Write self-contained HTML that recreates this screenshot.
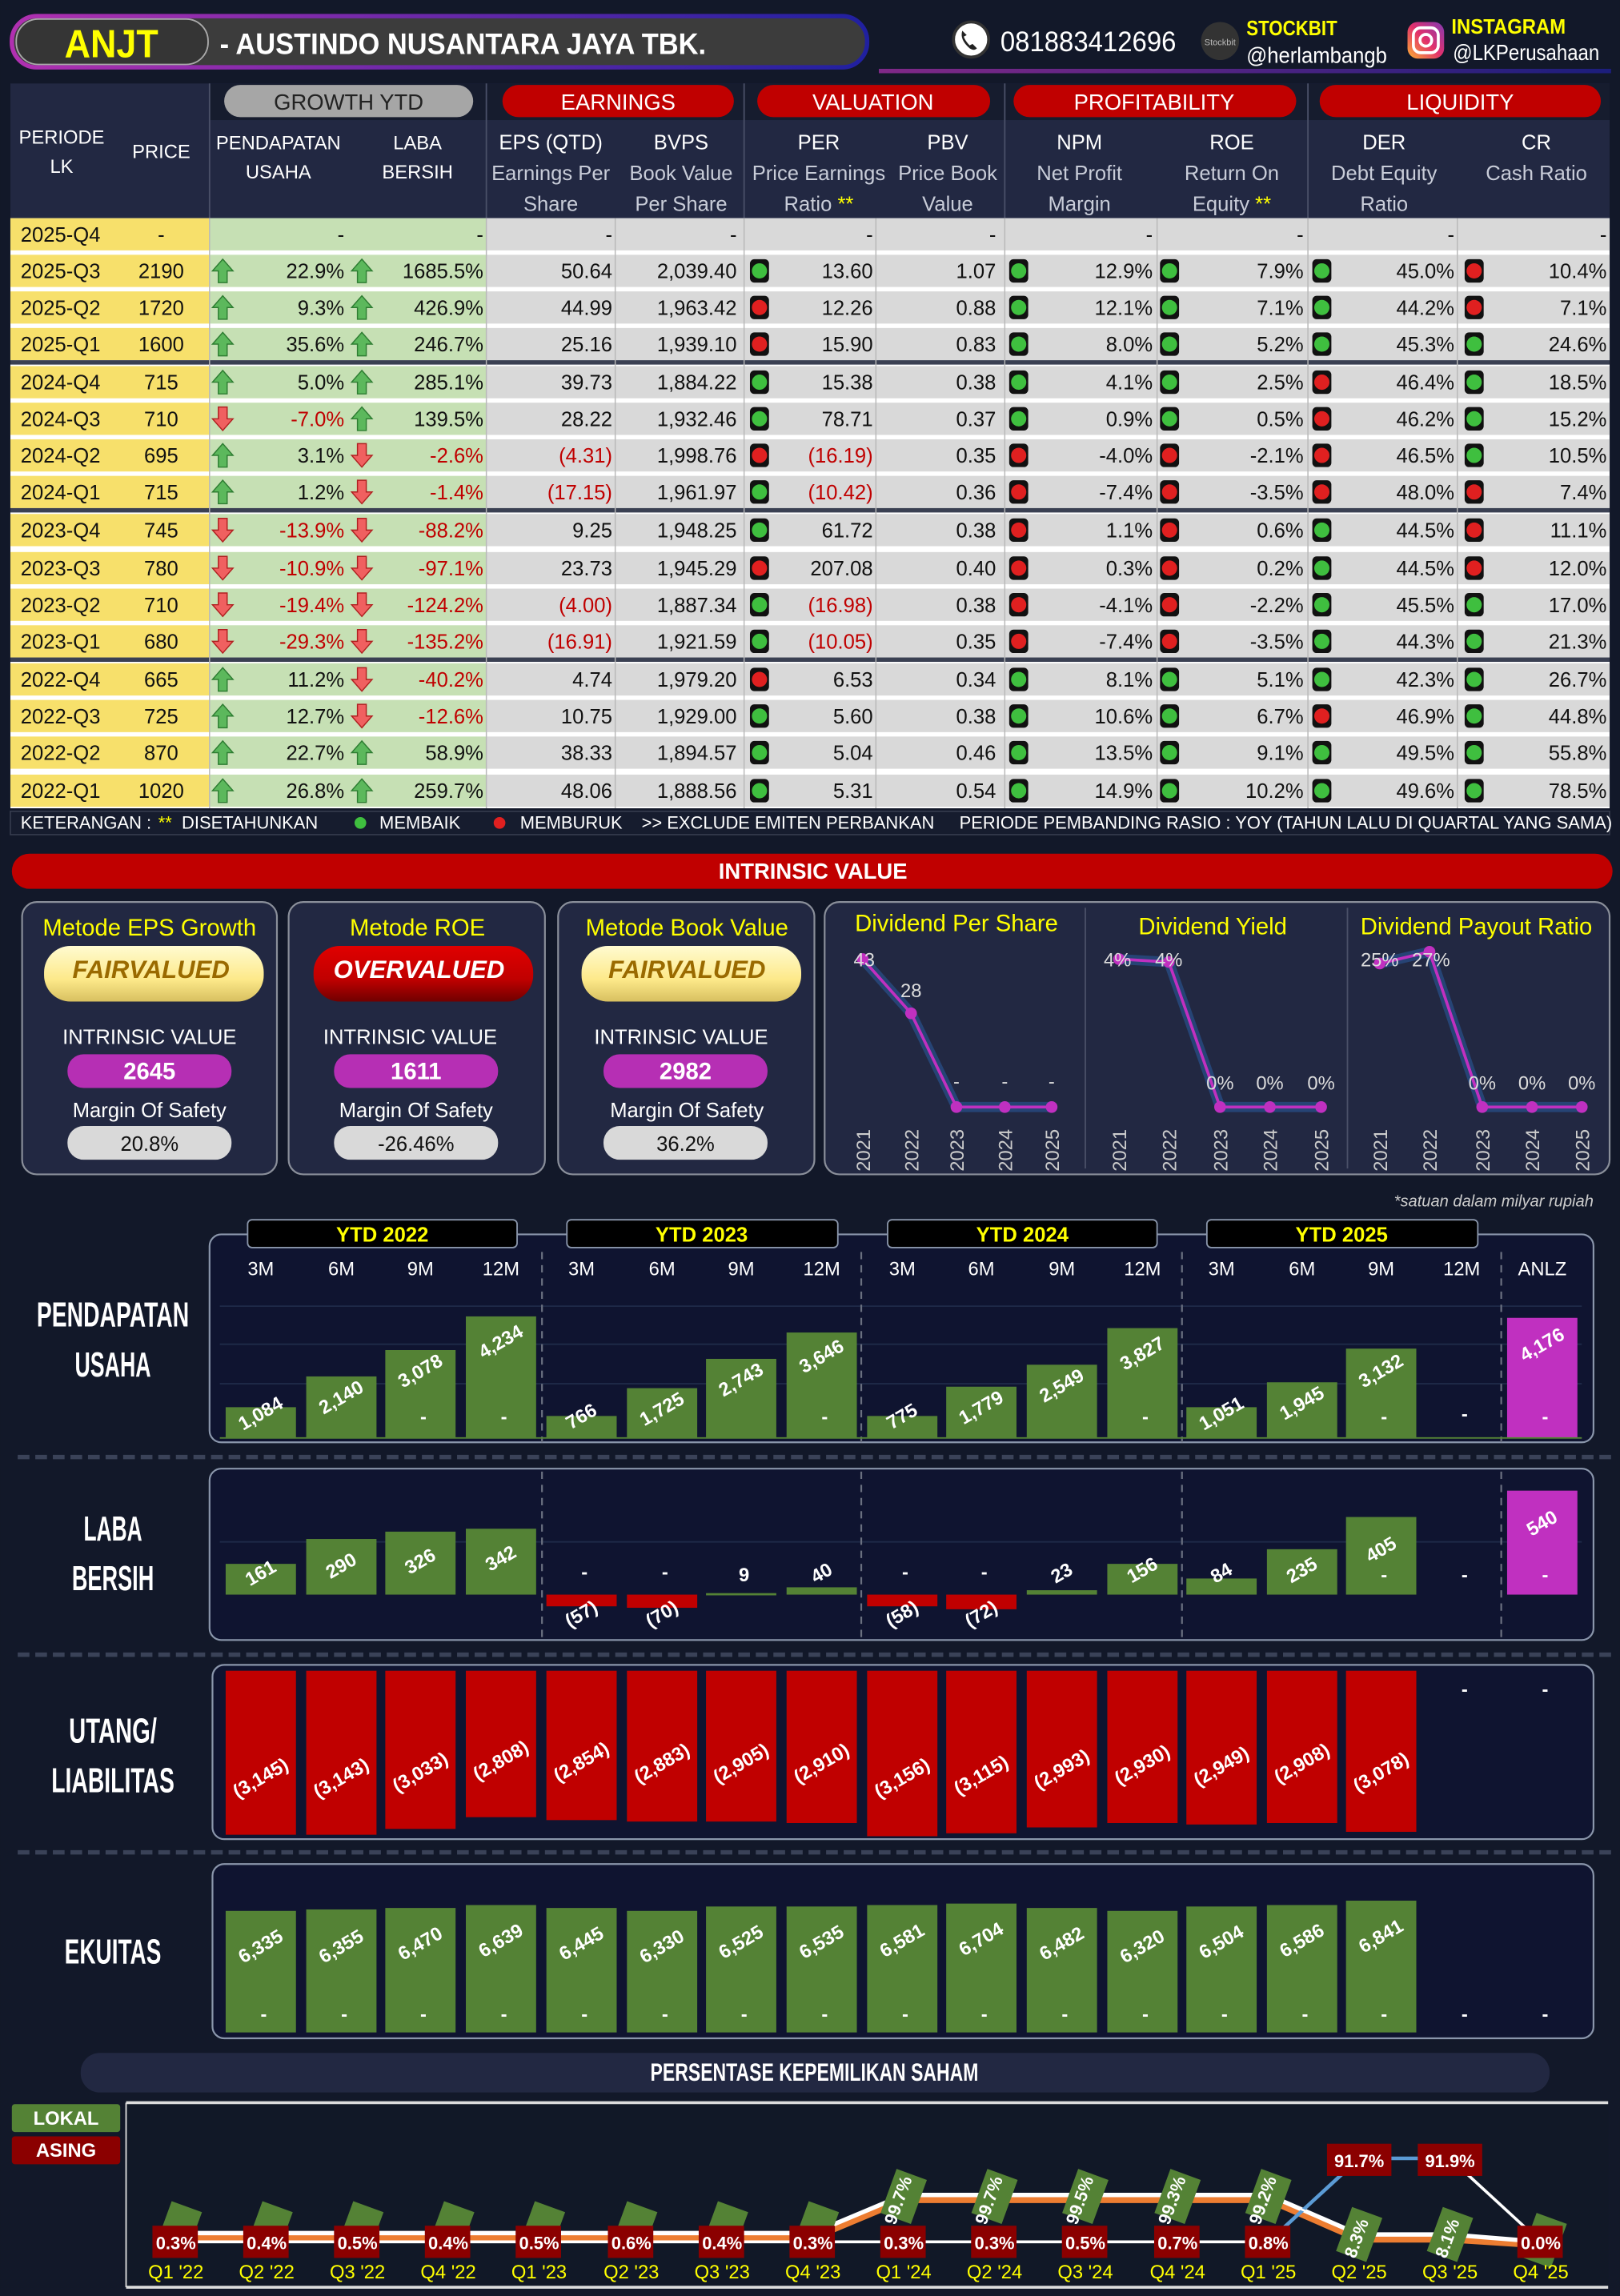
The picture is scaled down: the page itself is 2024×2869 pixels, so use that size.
<!DOCTYPE html>
<html><head><meta charset="utf-8"><style>
html,body{margin:0;padding:0;background:#121829;}
svg{display:block}
text{font-family:"Liberation Sans Narrow","Liberation Sans",sans-serif;}
.t{font-size:14px;fill:#111;}
.e{text-anchor:end}
.m{text-anchor:middle}
.h{font-size:14px;fill:#fff;text-anchor:middle}
.hs{font-size:14px;fill:#c8ccd8;text-anchor:middle}
.neg{fill:#c00000}
.bl{font-size:13px;fill:#fff;font-weight:bold;text-anchor:middle}
.ml{font-size:13px;fill:#fff;text-anchor:middle}
.yl{font-size:14px;fill:#ffff00;text-anchor:middle}
</style></head><body>
<svg width="2024" height="2869" viewBox="0 0 1106 1568" xmlns="http://www.w3.org/2000/svg">
<defs>
<linearGradient id="hg" x1="0" x2="1"><stop offset="0" stop-color="#b030b0"/><stop offset="1" stop-color="#2020a0"/></linearGradient>
<linearGradient id="yg" x1="0" y1="0" x2="0" y2="1"><stop offset="0" stop-color="#fffbd0"/><stop offset="0.6" stop-color="#fde98a"/><stop offset="1" stop-color="#d8c060"/></linearGradient>
<linearGradient id="rg" x1="0" y1="0" x2="0" y2="1"><stop offset="0" stop-color="#e00000"/><stop offset="0.6" stop-color="#c00000"/><stop offset="1" stop-color="#700000"/></linearGradient>
<linearGradient id="ig" x1="0" y1="1" x2="1" y2="0"><stop offset="0" stop-color="#fdb032"/><stop offset="0.5" stop-color="#e1306c"/><stop offset="1" stop-color="#833ab4"/></linearGradient>
<g id="up"><path d="M0,-8 L7,0 L3,0 L3,8 L-3,8 L-3,0 L-7,0Z" fill="#5cb85c" stroke="#2e7d32" stroke-width="0.8"/></g>
<g id="dn"><path d="M0,8 L7,0 L3,0 L3,-8 L-3,-8 L-3,0 L-7,0Z" fill="#f06060" stroke="#b02020" stroke-width="0.8"/></g>
<g id="G"><rect x="0" y="-8" width="13" height="16" rx="3" fill="#111"/><circle cx="6.5" cy="0" r="5.2" fill="#3fbf3f"/></g>
<g id="R"><rect x="0" y="-8" width="13" height="16" rx="3" fill="#111"/><circle cx="6.5" cy="0" r="5.2" fill="#e02020"/></g>
<g id="LG"><rect x="-16" y="-11" width="32" height="22" fill="#548235"/></g>
</defs>
<rect width="1106" height="1568" fill="#121829"/>

<!-- HEADER -->
<rect x="8" y="11" width="584" height="35" rx="17" fill="#3c3c3c" stroke="url(#hg)" stroke-width="3"/>
<rect x="11" y="13" width="131" height="31" rx="15" fill="#353535" stroke="#aaa" stroke-width="1"/>
<text x="76" y="39" class="m" style="font-size:27px;font-weight:bold;fill:#ffff00" textLength="64" lengthAdjust="spacingAndGlyphs">ANJT</text>
<text x="150" y="37" style="font-size:20px;font-weight:bold;fill:#fff" textLength="332" lengthAdjust="spacingAndGlyphs">-  AUSTINDO NUSANTARA JAYA TBK.</text>
<circle cx="663" cy="27" r="12" fill="#fff" stroke="#333" stroke-width="2"/>
<path d="M657,21 q-2,6 5,12 q3,2 5,0 l-3,-3 l-2,1 q-3,-3 -4,-6 l2,-1z" fill="#222"/>
<text x="683" y="35" style="font-size:19px;fill:#fff" textLength="120" lengthAdjust="spacingAndGlyphs">081883412696</text>
<circle cx="833" cy="28" r="13" fill="#333"/>
<text x="833" y="31" class="m" style="font-size:6px;fill:#bbb">Stockbit</text>
<text x="851" y="24" style="font-size:14px;font-weight:bold;fill:#ffff00" textLength="62" lengthAdjust="spacingAndGlyphs">STOCKBIT</text>
<text x="851" y="43" style="font-size:15px;fill:#fff" textLength="96" lengthAdjust="spacingAndGlyphs">@herlambangb</text>
<rect x="961" y="15" width="25" height="25" rx="7" fill="url(#ig)"/>
<rect x="965" y="19" width="17" height="17" rx="5" fill="none" stroke="#fff" stroke-width="2"/>
<circle cx="973.5" cy="27.5" r="4" fill="none" stroke="#fff" stroke-width="2"/>
<text x="991" y="23" style="font-size:14px;font-weight:bold;fill:#ffff00" textLength="78" lengthAdjust="spacingAndGlyphs">INSTAGRAM</text>
<text x="992" y="41" style="font-size:15px;fill:#fff" textLength="100" lengthAdjust="spacingAndGlyphs">@LKPerusahaan</text>
<rect x="600" y="47" width="500" height="3" fill="url(#hg)" opacity="0.7"/>

<!-- TABLE HEADER -->
<rect x="7" y="57" width="1092" height="92" fill="#222842"/>
<rect x="143" y="57" width="956" height="25" fill="#161c2e"/>
<g stroke="#4a5068" stroke-width="1"><line x1="143" y1="57" x2="143" y2="149"/><line x1="332" y1="57" x2="332" y2="149"/><line x1="508" y1="57" x2="508" y2="149"/><line x1="686" y1="57" x2="686" y2="149"/><line x1="893" y1="57" x2="893" y2="149"/></g>
<rect x="153" y="58" width="170" height="22" rx="11" fill="#a6a6a6"/>
<text x="238" y="75" class="m" style="font-size:15px;fill:#222">GROWTH YTD</text>
<rect x="343" y="58" width="158" height="22" rx="11" fill="#c00000"/>
<text x="422" y="75" class="h" style="font-size:15px">EARNINGS</text>
<rect x="517" y="58" width="159" height="22" rx="11" fill="#c00000"/>
<text x="596" y="75" class="h" style="font-size:15px">VALUATION</text>
<rect x="692" y="58" width="193" height="22" rx="11" fill="#c00000"/>
<text x="788" y="75" class="h" style="font-size:15px">PROFITABILITY</text>
<rect x="901" y="58" width="192" height="22" rx="11" fill="#c00000"/>
<text x="997" y="75" class="h" style="font-size:15px">LIQUIDITY</text>
<text x="42" y="98" class="h" style="font-size:13px">PERIODE</text>
<text x="42" y="118" class="h" style="font-size:13px">LK</text>
<text x="110" y="108" class="h" style="font-size:13px">PRICE</text>
<text x="190" y="102" class="h" style="font-size:13px">PENDAPATAN</text>
<text x="190" y="122" class="h" style="font-size:13px">USAHA</text>
<text x="285" y="102" class="h" style="font-size:13px">LABA</text>
<text x="285" y="122" class="h" style="font-size:13px">BERSIH</text>
<text x="376" y="102" class="h">EPS (QTD)</text><text x="376" y="123" class="hs">Earnings Per</text><text x="376" y="144" class="hs">Share</text>
<text x="465" y="102" class="h">BVPS</text><text x="465" y="123" class="hs">Book Value</text><text x="465" y="144" class="hs">Per Share</text>
<text x="559" y="102" class="h">PER</text><text x="559" y="123" class="hs">Price Earnings</text><text x="559" y="144" class="hs">Ratio <tspan fill="#ffff00">**</tspan></text>
<text x="647" y="102" class="h">PBV</text><text x="647" y="123" class="hs">Price Book</text><text x="647" y="144" class="hs">Value</text>
<text x="737" y="102" class="h">NPM</text><text x="737" y="123" class="hs">Net Profit</text><text x="737" y="144" class="hs">Margin</text>
<text x="841" y="102" class="h">ROE</text><text x="841" y="123" class="hs">Return On</text><text x="841" y="144" class="hs">Equity <tspan fill="#ffff00">**</tspan></text>
<text x="945" y="102" class="h">DER</text><text x="945" y="123" class="hs">Debt Equity</text><text x="945" y="144" class="hs">Ratio</text>
<text x="1049" y="102" class="h">CR</text><text x="1049" y="123" class="hs">Cash Ratio</text>

<!-- TABLE BODY BG -->
<rect x="7" y="149" width="1092" height="403" fill="#fff"/>
<g id="rowsbg">
<g fill="#f7e06b"><rect x="7" y="149" width="136" height="22"/><rect x="7" y="174" width="136" height="22"/><rect x="7" y="199" width="136" height="22"/><rect x="7" y="224" width="136" height="22"/><rect x="7" y="250" width="136" height="22"/><rect x="7" y="275" width="136" height="22"/><rect x="7" y="300" width="136" height="22"/><rect x="7" y="325" width="136" height="22"/><rect x="7" y="351" width="136" height="22"/><rect x="7" y="377" width="136" height="22"/><rect x="7" y="402" width="136" height="22"/><rect x="7" y="427" width="136" height="22"/><rect x="7" y="453" width="136" height="22"/><rect x="7" y="478" width="136" height="22"/><rect x="7" y="503" width="136" height="22"/><rect x="7" y="529" width="136" height="22"/></g>
<g fill="#c6e0b4"><rect x="143" y="149" width="189" height="22"/><rect x="143" y="174" width="189" height="22"/><rect x="143" y="199" width="189" height="22"/><rect x="143" y="224" width="189" height="22"/><rect x="143" y="250" width="189" height="22"/><rect x="143" y="275" width="189" height="22"/><rect x="143" y="300" width="189" height="22"/><rect x="143" y="325" width="189" height="22"/><rect x="143" y="351" width="189" height="22"/><rect x="143" y="377" width="189" height="22"/><rect x="143" y="402" width="189" height="22"/><rect x="143" y="427" width="189" height="22"/><rect x="143" y="453" width="189" height="22"/><rect x="143" y="478" width="189" height="22"/><rect x="143" y="503" width="189" height="22"/><rect x="143" y="529" width="189" height="22"/></g>
<g fill="#d9d9d9"><rect x="332" y="149" width="767" height="22"/><rect x="332" y="174" width="767" height="22"/><rect x="332" y="199" width="767" height="22"/><rect x="332" y="224" width="767" height="22"/><rect x="332" y="250" width="767" height="22"/><rect x="332" y="275" width="767" height="22"/><rect x="332" y="300" width="767" height="22"/><rect x="332" y="325" width="767" height="22"/><rect x="332" y="351" width="767" height="22"/><rect x="332" y="377" width="767" height="22"/><rect x="332" y="402" width="767" height="22"/><rect x="332" y="427" width="767" height="22"/><rect x="332" y="453" width="767" height="22"/><rect x="332" y="478" width="767" height="22"/><rect x="332" y="503" width="767" height="22"/><rect x="332" y="529" width="767" height="22"/></g>
<g fill="#3a4052"><rect x="7" y="246" width="1092" height="3"/><rect x="7" y="347" width="1092" height="3"/><rect x="7" y="449" width="1092" height="3"/></g>
<g stroke="#b8b8b8" stroke-width="0.8"><line x1="420" y1="149" x2="420" y2="552"/><line x1="508" y1="149" x2="508" y2="552"/><line x1="598" y1="149" x2="598" y2="552"/><line x1="686" y1="149" x2="686" y2="552"/><line x1="790" y1="149" x2="790" y2="552"/><line x1="893" y1="149" x2="893" y2="552"/><line x1="995" y1="149" x2="995" y2="552"/><line x1="143" y1="149" x2="143" y2="552"/><line x1="332" y1="149" x2="332" y2="552"/></g>
</g>

<g class="t"><text x="14" y="165">2025-Q4</text><text x="110" y="165" class="m">-</text><text x="235" y="165" class="e">-</text><text x="330" y="165" class="e">-</text><text x="418" y="165" class="e">-</text><text x="503" y="165" class="e">-</text><text x="596" y="165" class="e">-</text><text x="680" y="165" class="e">-</text><text x="787" y="165" class="e">-</text><text x="890" y="165" class="e">-</text><text x="993" y="165" class="e">-</text><text x="1097" y="165" class="e">-</text></g>

<g class="t">
<text x="14" y="190">2025-Q3</text><text x="110" y="190" class="m">2190</text><text x="235" y="190" class="e">22.9%</text><text x="330" y="190" class="e">1685.5%</text><text x="418" y="190" class="e">50.64</text><text x="503" y="190" class="e">2,039.40</text><text x="596" y="190" class="e">13.60</text><text x="680" y="190" class="e">1.07</text><text x="787" y="190" class="e">12.9%</text><text x="890" y="190" class="e">7.9%</text><text x="993" y="190" class="e">45.0%</text><text x="1097" y="190" class="e">10.4%</text>
<text x="14" y="215">2025-Q2</text><text x="110" y="215" class="m">1720</text><text x="235" y="215" class="e">9.3%</text><text x="330" y="215" class="e">426.9%</text><text x="418" y="215" class="e">44.99</text><text x="503" y="215" class="e">1,963.42</text><text x="596" y="215" class="e">12.26</text><text x="680" y="215" class="e">0.88</text><text x="787" y="215" class="e">12.1%</text><text x="890" y="215" class="e">7.1%</text><text x="993" y="215" class="e">44.2%</text><text x="1097" y="215" class="e">7.1%</text>
<text x="14" y="240">2025-Q1</text><text x="110" y="240" class="m">1600</text><text x="235" y="240" class="e">35.6%</text><text x="330" y="240" class="e">246.7%</text><text x="418" y="240" class="e">25.16</text><text x="503" y="240" class="e">1,939.10</text><text x="596" y="240" class="e">15.90</text><text x="680" y="240" class="e">0.83</text><text x="787" y="240" class="e">8.0%</text><text x="890" y="240" class="e">5.2%</text><text x="993" y="240" class="e">45.3%</text><text x="1097" y="240" class="e">24.6%</text>
<text x="14" y="266">2024-Q4</text><text x="110" y="266" class="m">715</text><text x="235" y="266" class="e">5.0%</text><text x="330" y="266" class="e">285.1%</text><text x="418" y="266" class="e">39.73</text><text x="503" y="266" class="e">1,884.22</text><text x="596" y="266" class="e">15.38</text><text x="680" y="266" class="e">0.38</text><text x="787" y="266" class="e">4.1%</text><text x="890" y="266" class="e">2.5%</text><text x="993" y="266" class="e">46.4%</text><text x="1097" y="266" class="e">18.5%</text>
<text x="14" y="291">2024-Q3</text><text x="110" y="291" class="m">710</text><text x="235" y="291" class="e neg">-7.0%</text><text x="330" y="291" class="e">139.5%</text><text x="418" y="291" class="e">28.22</text><text x="503" y="291" class="e">1,932.46</text><text x="596" y="291" class="e">78.71</text><text x="680" y="291" class="e">0.37</text><text x="787" y="291" class="e">0.9%</text><text x="890" y="291" class="e">0.5%</text><text x="993" y="291" class="e">46.2%</text><text x="1097" y="291" class="e">15.2%</text>
<text x="14" y="316">2024-Q2</text><text x="110" y="316" class="m">695</text><text x="235" y="316" class="e">3.1%</text><text x="330" y="316" class="e neg">-2.6%</text><text x="418" y="316" class="e neg">(4.31)</text><text x="503" y="316" class="e">1,998.76</text><text x="596" y="316" class="e neg">(16.19)</text><text x="680" y="316" class="e">0.35</text><text x="787" y="316" class="e">-4.0%</text><text x="890" y="316" class="e">-2.1%</text><text x="993" y="316" class="e">46.5%</text><text x="1097" y="316" class="e">10.5%</text>
<text x="14" y="341">2024-Q1</text><text x="110" y="341" class="m">715</text><text x="235" y="341" class="e">1.2%</text><text x="330" y="341" class="e neg">-1.4%</text><text x="418" y="341" class="e neg">(17.15)</text><text x="503" y="341" class="e">1,961.97</text><text x="596" y="341" class="e neg">(10.42)</text><text x="680" y="341" class="e">0.36</text><text x="787" y="341" class="e">-7.4%</text><text x="890" y="341" class="e">-3.5%</text><text x="993" y="341" class="e">48.0%</text><text x="1097" y="341" class="e">7.4%</text>
<text x="14" y="367">2023-Q4</text><text x="110" y="367" class="m">745</text><text x="235" y="367" class="e neg">-13.9%</text><text x="330" y="367" class="e neg">-88.2%</text><text x="418" y="367" class="e">9.25</text><text x="503" y="367" class="e">1,948.25</text><text x="596" y="367" class="e">61.72</text><text x="680" y="367" class="e">0.38</text><text x="787" y="367" class="e">1.1%</text><text x="890" y="367" class="e">0.6%</text><text x="993" y="367" class="e">44.5%</text><text x="1097" y="367" class="e">11.1%</text>
<text x="14" y="393">2023-Q3</text><text x="110" y="393" class="m">780</text><text x="235" y="393" class="e neg">-10.9%</text><text x="330" y="393" class="e neg">-97.1%</text><text x="418" y="393" class="e">23.73</text><text x="503" y="393" class="e">1,945.29</text><text x="596" y="393" class="e">207.08</text><text x="680" y="393" class="e">0.40</text><text x="787" y="393" class="e">0.3%</text><text x="890" y="393" class="e">0.2%</text><text x="993" y="393" class="e">44.5%</text><text x="1097" y="393" class="e">12.0%</text>
<text x="14" y="418">2023-Q2</text><text x="110" y="418" class="m">710</text><text x="235" y="418" class="e neg">-19.4%</text><text x="330" y="418" class="e neg">-124.2%</text><text x="418" y="418" class="e neg">(4.00)</text><text x="503" y="418" class="e">1,887.34</text><text x="596" y="418" class="e neg">(16.98)</text><text x="680" y="418" class="e">0.38</text><text x="787" y="418" class="e">-4.1%</text><text x="890" y="418" class="e">-2.2%</text><text x="993" y="418" class="e">45.5%</text><text x="1097" y="418" class="e">17.0%</text>
<text x="14" y="443">2023-Q1</text><text x="110" y="443" class="m">680</text><text x="235" y="443" class="e neg">-29.3%</text><text x="330" y="443" class="e neg">-135.2%</text><text x="418" y="443" class="e neg">(16.91)</text><text x="503" y="443" class="e">1,921.59</text><text x="596" y="443" class="e neg">(10.05)</text><text x="680" y="443" class="e">0.35</text><text x="787" y="443" class="e">-7.4%</text><text x="890" y="443" class="e">-3.5%</text><text x="993" y="443" class="e">44.3%</text><text x="1097" y="443" class="e">21.3%</text>
<text x="14" y="469">2022-Q4</text><text x="110" y="469" class="m">665</text><text x="235" y="469" class="e">11.2%</text><text x="330" y="469" class="e neg">-40.2%</text><text x="418" y="469" class="e">4.74</text><text x="503" y="469" class="e">1,979.20</text><text x="596" y="469" class="e">6.53</text><text x="680" y="469" class="e">0.34</text><text x="787" y="469" class="e">8.1%</text><text x="890" y="469" class="e">5.1%</text><text x="993" y="469" class="e">42.3%</text><text x="1097" y="469" class="e">26.7%</text>
<text x="14" y="494">2022-Q3</text><text x="110" y="494" class="m">725</text><text x="235" y="494" class="e">12.7%</text><text x="330" y="494" class="e neg">-12.6%</text><text x="418" y="494" class="e">10.75</text><text x="503" y="494" class="e">1,929.00</text><text x="596" y="494" class="e">5.60</text><text x="680" y="494" class="e">0.38</text><text x="787" y="494" class="e">10.6%</text><text x="890" y="494" class="e">6.7%</text><text x="993" y="494" class="e">46.9%</text><text x="1097" y="494" class="e">44.8%</text>
<text x="14" y="519">2022-Q2</text><text x="110" y="519" class="m">870</text><text x="235" y="519" class="e">22.7%</text><text x="330" y="519" class="e">58.9%</text><text x="418" y="519" class="e">38.33</text><text x="503" y="519" class="e">1,894.57</text><text x="596" y="519" class="e">5.04</text><text x="680" y="519" class="e">0.46</text><text x="787" y="519" class="e">13.5%</text><text x="890" y="519" class="e">9.1%</text><text x="993" y="519" class="e">49.5%</text><text x="1097" y="519" class="e">55.8%</text>
<text x="14" y="545">2022-Q1</text><text x="110" y="545" class="m">1020</text><text x="235" y="545" class="e">26.8%</text><text x="330" y="545" class="e">259.7%</text><text x="418" y="545" class="e">48.06</text><text x="503" y="545" class="e">1,888.56</text><text x="596" y="545" class="e">5.31</text><text x="680" y="545" class="e">0.54</text><text x="787" y="545" class="e">14.9%</text><text x="890" y="545" class="e">10.2%</text><text x="993" y="545" class="e">49.6%</text><text x="1097" y="545" class="e">78.5%</text>
</g>
<use href="#up" x="152" y="185"/><use href="#up" x="247" y="185"/>
<use href="#up" x="152" y="210"/><use href="#up" x="247" y="210"/>
<use href="#up" x="152" y="235"/><use href="#up" x="247" y="235"/>
<use href="#up" x="152" y="261"/><use href="#up" x="247" y="261"/>
<use href="#dn" x="152" y="286"/><use href="#up" x="247" y="286"/>
<use href="#up" x="152" y="311"/><use href="#dn" x="247" y="311"/>
<use href="#up" x="152" y="336"/><use href="#dn" x="247" y="336"/>
<use href="#dn" x="152" y="362"/><use href="#dn" x="247" y="362"/>
<use href="#dn" x="152" y="388"/><use href="#dn" x="247" y="388"/>
<use href="#dn" x="152" y="413"/><use href="#dn" x="247" y="413"/>
<use href="#dn" x="152" y="438"/><use href="#dn" x="247" y="438"/>
<use href="#up" x="152" y="464"/><use href="#dn" x="247" y="464"/>
<use href="#up" x="152" y="489"/><use href="#dn" x="247" y="489"/>
<use href="#up" x="152" y="514"/><use href="#up" x="247" y="514"/>
<use href="#up" x="152" y="540"/><use href="#up" x="247" y="540"/>
<use href="#G" x="512" y="185"/><use href="#G" x="689" y="185"/><use href="#G" x="792" y="185"/><use href="#G" x="896" y="185"/><use href="#R" x="1000" y="185"/>
<use href="#R" x="512" y="210"/><use href="#G" x="689" y="210"/><use href="#G" x="792" y="210"/><use href="#G" x="896" y="210"/><use href="#R" x="1000" y="210"/>
<use href="#R" x="512" y="235"/><use href="#G" x="689" y="235"/><use href="#G" x="792" y="235"/><use href="#G" x="896" y="235"/><use href="#G" x="1000" y="235"/>
<use href="#G" x="512" y="261"/><use href="#G" x="689" y="261"/><use href="#G" x="792" y="261"/><use href="#R" x="896" y="261"/><use href="#G" x="1000" y="261"/>
<use href="#G" x="512" y="286"/><use href="#G" x="689" y="286"/><use href="#G" x="792" y="286"/><use href="#R" x="896" y="286"/><use href="#G" x="1000" y="286"/>
<use href="#R" x="512" y="311"/><use href="#R" x="689" y="311"/><use href="#R" x="792" y="311"/><use href="#R" x="896" y="311"/><use href="#G" x="1000" y="311"/>
<use href="#G" x="512" y="336"/><use href="#R" x="689" y="336"/><use href="#R" x="792" y="336"/><use href="#R" x="896" y="336"/><use href="#R" x="1000" y="336"/>
<use href="#G" x="512" y="362"/><use href="#R" x="689" y="362"/><use href="#R" x="792" y="362"/><use href="#G" x="896" y="362"/><use href="#R" x="1000" y="362"/>
<use href="#R" x="512" y="388"/><use href="#R" x="689" y="388"/><use href="#R" x="792" y="388"/><use href="#G" x="896" y="388"/><use href="#R" x="1000" y="388"/>
<use href="#G" x="512" y="413"/><use href="#R" x="689" y="413"/><use href="#R" x="792" y="413"/><use href="#G" x="896" y="413"/><use href="#G" x="1000" y="413"/>
<use href="#G" x="512" y="438"/><use href="#R" x="689" y="438"/><use href="#R" x="792" y="438"/><use href="#G" x="896" y="438"/><use href="#G" x="1000" y="438"/>
<use href="#R" x="512" y="464"/><use href="#G" x="689" y="464"/><use href="#G" x="792" y="464"/><use href="#G" x="896" y="464"/><use href="#G" x="1000" y="464"/>
<use href="#G" x="512" y="489"/><use href="#G" x="689" y="489"/><use href="#G" x="792" y="489"/><use href="#R" x="896" y="489"/><use href="#G" x="1000" y="489"/>
<use href="#G" x="512" y="514"/><use href="#G" x="689" y="514"/><use href="#G" x="792" y="514"/><use href="#G" x="896" y="514"/><use href="#G" x="1000" y="514"/>
<use href="#G" x="512" y="540"/><use href="#G" x="689" y="540"/><use href="#G" x="792" y="540"/><use href="#G" x="896" y="540"/><use href="#G" x="1000" y="540"/>

<rect x="7" y="554" width="1092" height="16" fill="#161c2e" stroke="#3a4052" stroke-width="0.8"/>
<text y="566" style="font-size:12px;fill:#fff"><tspan x="14">KETERANGAN :</tspan><tspan x="108" fill="#ffff00">**</tspan><tspan x="124">DISETAHUNKAN</tspan><tspan x="259">MEMBAIK</tspan><tspan x="355">MEMBURUK</tspan><tspan x="438">&gt;&gt; EXCLUDE EMITEN PERBANKAN</tspan><tspan x="655">PERIODE PEMBANDING RASIO : YOY (TAHUN LALU DI QUARTAL YANG SAMA)</tspan></text>
<circle cx="246" cy="562" r="4" fill="#3fbf3f"/><circle cx="341" cy="562" r="4" fill="#e02020"/>

<rect x="8" y="583" width="1093" height="24" rx="12" fill="#c00000"/>
<text x="555" y="600" class="m" style="font-size:15px;font-weight:bold;fill:#fff">INTRINSIC VALUE</text>

<g>
<rect x="15" y="616" width="174" height="186" rx="10" fill="#222842" stroke="#8a8f9a" stroke-width="1.2"/>
<rect x="197" y="616" width="175" height="186" rx="10" fill="#222842" stroke="#8a8f9a" stroke-width="1.2"/>
<rect x="381" y="616" width="175" height="186" rx="10" fill="#222842" stroke="#8a8f9a" stroke-width="1.2"/>
<rect x="563" y="616" width="536" height="186" rx="10" fill="#222842" stroke="#8a8f9a" stroke-width="1.2"/>
<line x1="741" y1="620" x2="741" y2="798" stroke="#4a5068"/><line x1="920" y1="620" x2="920" y2="798" stroke="#4a5068"/>
</g>
<text x="102" y="639" class="yl" style="font-size:16px">Metode EPS Growth</text>
<text x="285" y="639" class="yl" style="font-size:16px">Metode ROE</text>
<text x="469" y="639" class="yl" style="font-size:16px">Metode Book Value</text>
<rect x="30" y="646" width="150" height="38" rx="18" fill="url(#yg)"/>
<rect x="214" y="646" width="150" height="38" rx="18" fill="url(#rg)"/>
<rect x="397" y="646" width="150" height="38" rx="18" fill="url(#yg)"/>
<text x="103" y="668" class="m" style="font-size:17px;font-weight:bold;font-style:italic;fill:#9a6a00">FAIRVALUED</text>
<text x="286" y="668" class="m" style="font-size:17px;font-weight:bold;font-style:italic;fill:#fff">OVERVALUED</text>
<text x="469" y="668" class="m" style="font-size:17px;font-weight:bold;font-style:italic;fill:#9a6a00">FAIRVALUED</text>
<g class="h" style="font-size:14px">
<text x="102" y="713">INTRINSIC VALUE</text><text x="280" y="713">INTRINSIC VALUE</text><text x="465" y="713">INTRINSIC VALUE</text>
<text x="102" y="763">Margin Of Safety</text><text x="284" y="763">Margin Of Safety</text><text x="469" y="763">Margin Of Safety</text>
</g>
<rect x="46" y="720" width="112" height="23" rx="11" fill="#b62fb4"/><rect x="228" y="720" width="112" height="23" rx="11" fill="#b62fb4"/><rect x="412" y="720" width="112" height="23" rx="11" fill="#b62fb4"/>
<text x="102" y="737" class="h" style="font-size:16px;font-weight:bold">2645</text><text x="284" y="737" class="h" style="font-size:16px;font-weight:bold">1611</text><text x="468" y="737" class="h" style="font-size:16px;font-weight:bold">2982</text>
<rect x="46" y="769" width="112" height="23" rx="11" fill="#d9d9d9"/><rect x="228" y="769" width="112" height="23" rx="11" fill="#d9d9d9"/><rect x="412" y="769" width="112" height="23" rx="11" fill="#d9d9d9"/>
<text x="102" y="786" class="m t">20.8%</text><text x="284" y="786" class="m t">-26.46%</text><text x="468" y="786" class="m t">36.2%</text>

<text x="653" y="636" class="yl" style="font-size:16px">Dividend Per Share</text>
<text x="828" y="638" class="yl" style="font-size:16px">Dividend Yield</text>
<text x="1008" y="638" class="yl" style="font-size:16px">Dividend Payout Ratio</text>
<g fill="none" stroke="#2a5fa8" stroke-width="7" opacity="0.5" stroke-linejoin="round">
<polyline points="589,655 622,692 653,756 686,756 718,756"/>
<polyline points="764,655 798,657 833,756 867,756 902,756"/>
<polyline points="942,658 976,650 1012,756 1046,756 1080,756"/>
</g>
<g fill="none" stroke="#c030c0" stroke-width="2">
<polyline points="589,655 622,692 653,756 686,756 718,756"/>
<polyline points="764,655 798,657 833,756 867,756 902,756"/>
<polyline points="942,658 976,650 1012,756 1046,756 1080,756"/>
</g>
<g fill="#c030c0"><circle cx="589" cy="655" r="4"/><circle cx="622" cy="692" r="4"/><circle cx="653" cy="756" r="4"/><circle cx="686" cy="756" r="4"/><circle cx="718" cy="756" r="4"/>
<circle cx="764" cy="655" r="4"/><circle cx="798" cy="657" r="4"/><circle cx="833" cy="756" r="4"/><circle cx="867" cy="756" r="4"/><circle cx="902" cy="756" r="4"/>
<circle cx="942" cy="658" r="4"/><circle cx="976" cy="650" r="4"/><circle cx="1012" cy="756" r="4"/><circle cx="1046" cy="756" r="4"/><circle cx="1080" cy="756" r="4"/></g>
<g style="font-size:13px;fill:#ddd">
<text x="590" y="660" class="m" style="fill:#ddd">43</text><text x="622" y="681" class="m" style="fill:#ddd">28</text><text x="653" y="743" class="m" style="fill:#ddd">-</text><text x="686" y="743" class="m" style="fill:#ddd">-</text><text x="718" y="743" class="m" style="fill:#ddd">-</text>
<text x="763" y="660" class="m" style="fill:#ddd">4%</text><text x="798" y="660" class="m" style="fill:#ddd">4%</text><text x="833" y="744" class="m" style="fill:#ddd">0%</text><text x="867" y="744" class="m" style="fill:#ddd">0%</text><text x="902" y="744" class="m" style="fill:#ddd">0%</text>
<text x="942" y="660" class="m" style="fill:#ddd">25%</text><text x="977" y="660" class="m" style="fill:#ddd">27%</text><text x="1012" y="744" class="m" style="fill:#ddd">0%</text><text x="1046" y="744" class="m" style="fill:#ddd">0%</text><text x="1080" y="744" class="m" style="fill:#ddd">0%</text>
</g>
<g style="font-size:13px;fill:#ccc">
<text transform="translate(594,800) rotate(-90)">2021</text><text transform="translate(627,800) rotate(-90)">2022</text><text transform="translate(658,800) rotate(-90)">2023</text><text transform="translate(691,800) rotate(-90)">2024</text><text transform="translate(723,800) rotate(-90)">2025</text>
<text transform="translate(769,800) rotate(-90)">2021</text><text transform="translate(803,800) rotate(-90)">2022</text><text transform="translate(838,800) rotate(-90)">2023</text><text transform="translate(872,800) rotate(-90)">2024</text><text transform="translate(907,800) rotate(-90)">2025</text>
<text transform="translate(947,800) rotate(-90)">2021</text><text transform="translate(981,800) rotate(-90)">2022</text><text transform="translate(1017,800) rotate(-90)">2023</text><text transform="translate(1051,800) rotate(-90)">2024</text><text transform="translate(1085,800) rotate(-90)">2025</text>
</g>

<text x="1088" y="824" class="e" style="font-size:11px;font-style:italic;fill:#ccc">*satuan dalam milyar rupiah</text>

<g fill="#0f1430" stroke="#8a96ab" stroke-width="1.2">
<rect x="143" y="843" width="945" height="142" rx="8"/>
<rect x="143" y="1003" width="945" height="117" rx="8"/>
<rect x="145" y="1137" width="943" height="119" rx="8"/>
<rect x="145" y="1273" width="943" height="119" rx="8"/>
</g>
<g stroke="#1f2a48" stroke-width="1"><line x1="150" y1="892" x2="1080" y2="892"/><line x1="150" y1="918" x2="1080" y2="918"/><line x1="150" y1="945" x2="1080" y2="945"/><line x1="150" y1="1053" x2="1080" y2="1053"/></g>
<g stroke="#6a7080" stroke-width="1.2" stroke-dasharray="5,4">
<line x1="370" y1="855" x2="370" y2="985"/><line x1="588" y1="855" x2="588" y2="985"/><line x1="807" y1="855" x2="807" y2="985"/><line x1="1025" y1="855" x2="1025" y2="985"/>
<line x1="370" y1="1005" x2="370" y2="1120"/><line x1="588" y1="1005" x2="588" y2="1120"/><line x1="807" y1="1005" x2="807" y2="1120"/><line x1="1025" y1="1005" x2="1025" y2="1120"/>
</g>
<g stroke="#3a4258" stroke-width="3" stroke-dasharray="8,4"><line x1="12" y1="995" x2="1100" y2="995"/><line x1="12" y1="1130" x2="1100" y2="1130"/><line x1="12" y1="1265" x2="1100" y2="1265"/></g>
<g fill="#000" stroke="#8a96ab" stroke-width="1">
<rect x="169" y="833" width="184" height="19" rx="3"/><rect x="387" y="833" width="185" height="19" rx="3"/><rect x="606" y="833" width="184" height="19" rx="3"/><rect x="824" y="833" width="185" height="19" rx="3"/>
</g>
<g style="font-size:14px;font-weight:bold">
<text x="261" y="848" class="m" style="fill:#ffff00">YTD 2022</text><text x="479" y="848" class="m" style="fill:#ffff00">YTD 2023</text><text x="698" y="848" class="m" style="fill:#ffff00">YTD 2024</text><text x="916" y="848" class="m" style="fill:#ffff00">YTD 2025</text>
</g>
<g class="ml">
<text x="178" y="871">3M</text><text x="233" y="871">6M</text><text x="287" y="871">9M</text><text x="342" y="871">12M</text>
<text x="397" y="871">3M</text><text x="452" y="871">6M</text><text x="506" y="871">9M</text><text x="561" y="871">12M</text>
<text x="616" y="871">3M</text><text x="670" y="871">6M</text><text x="725" y="871">9M</text><text x="780" y="871">12M</text>
<text x="834" y="871">3M</text><text x="889" y="871">6M</text><text x="943" y="871">9M</text><text x="998" y="871">12M</text><text x="1053" y="871">ANLZ</text>
</g>
<g style="font-weight:bold;font-size:24px">
<text x="77" y="906" class="m" style="fill:#fff" textLength="104" lengthAdjust="spacingAndGlyphs">PENDAPATAN</text>
<text x="77" y="940" class="m" style="fill:#fff" textLength="52" lengthAdjust="spacingAndGlyphs">USAHA</text>
<text x="77" y="1052" class="m" style="fill:#fff" textLength="40" lengthAdjust="spacingAndGlyphs">LABA</text>
<text x="77" y="1086" class="m" style="fill:#fff" textLength="56" lengthAdjust="spacingAndGlyphs">BERSIH</text>
<text x="77" y="1190" class="m" style="fill:#fff" textLength="60" lengthAdjust="spacingAndGlyphs">UTANG/</text>
<text x="77" y="1224" class="m" style="fill:#fff" textLength="84" lengthAdjust="spacingAndGlyphs">LIABILITAS</text>
<text x="77" y="1341" class="m" style="fill:#fff" textLength="66" lengthAdjust="spacingAndGlyphs">EKUITAS</text>
</g>

<g fill="#548235">
<rect x="154" y="961" width="48" height="21"/><rect x="209" y="940" width="48" height="42"/><rect x="263" y="922" width="48" height="60"/><rect x="318" y="899" width="48" height="83"/>
<rect x="373" y="967" width="48" height="15"/><rect x="428" y="948" width="48" height="34"/><rect x="482" y="928" width="48" height="54"/><rect x="537" y="910" width="48" height="72"/>
<rect x="592" y="967" width="48" height="15"/><rect x="646" y="947" width="48" height="35"/><rect x="701" y="932" width="48" height="50"/><rect x="756" y="907" width="48" height="75"/>
<rect x="810" y="961" width="48" height="21"/><rect x="865" y="944" width="48" height="38"/><rect x="919" y="921" width="48" height="61"/>
</g>
<rect x="1029" y="900" width="48" height="82" fill="#c030c0"/>
<line x1="150" y1="982" x2="1080" y2="982" stroke="#548235" stroke-width="1"/>
<g class="bl">
<text transform="translate(180,969) rotate(-30)">1,084</text><text transform="translate(235,958) rotate(-30)">2,140</text><text transform="translate(289,940) rotate(-30)">3,078</text><text transform="translate(344,920) rotate(-30)">4,234</text>
<text transform="translate(399,971) rotate(-30)">766</text><text transform="translate(454,966) rotate(-30)">1,725</text><text transform="translate(508,946) rotate(-30)">2,743</text><text transform="translate(563,930) rotate(-30)">3,646</text>
<text transform="translate(618,971) rotate(-30)">775</text><text transform="translate(672,965) rotate(-30)">1,779</text><text transform="translate(727,950) rotate(-30)">2,549</text><text transform="translate(782,928) rotate(-30)">3,827</text>
<text transform="translate(836,969) rotate(-30)">1,051</text><text transform="translate(891,962) rotate(-30)">1,945</text><text transform="translate(945,940) rotate(-30)">3,132</text><text x="1000" y="970">-</text><text transform="translate(1055,922) rotate(-30)">4,176</text>
<text x="289" y="972">-</text><text x="344" y="972">-</text><text x="563" y="972">-</text><text x="782" y="972">-</text><text x="945" y="972">-</text><text x="1055" y="972">-</text>
</g>

<g fill="#548235">
<rect x="154" y="1068" width="48" height="21"/><rect x="209" y="1051" width="48" height="38"/><rect x="263" y="1046" width="48" height="43"/><rect x="318" y="1044" width="48" height="45"/>
<rect x="482" y="1088" width="48" height="1.5"/><rect x="537" y="1084" width="48" height="5"/>
<rect x="701" y="1086" width="48" height="3"/><rect x="756" y="1068" width="48" height="21"/>
<rect x="810" y="1078" width="48" height="11"/><rect x="865" y="1058" width="48" height="31"/><rect x="919" y="1036" width="48" height="53"/>
</g>
<g fill="#c00000"><rect x="373" y="1089" width="48" height="8"/><rect x="428" y="1089" width="48" height="9"/><rect x="592" y="1089" width="48" height="8"/><rect x="646" y="1089" width="48" height="10"/></g>
<rect x="1029" y="1018" width="48" height="71" fill="#c030c0"/>
<g class="bl">
<text transform="translate(180,1078) rotate(-30)">161</text><text transform="translate(235,1073) rotate(-30)">290</text><text transform="translate(289,1070) rotate(-30)">326</text><text transform="translate(344,1068) rotate(-30)">342</text>
<text transform="translate(399,1106) rotate(-30)">(57)</text><text transform="translate(454,1106) rotate(-30)">(70)</text><text x="508" y="1080">9</text><text transform="translate(563,1078) rotate(-30)">40</text>
<text transform="translate(618,1106) rotate(-30)">(58)</text><text transform="translate(672,1106) rotate(-30)">(72)</text><text transform="translate(727,1078) rotate(-30)">23</text><text transform="translate(782,1076) rotate(-30)">156</text>
<text transform="translate(836,1078) rotate(-30)">84</text><text transform="translate(891,1076) rotate(-30)">235</text><text transform="translate(945,1062) rotate(-30)">405</text><text x="1000" y="1080">-</text><text transform="translate(1055,1044) rotate(-30)">540</text>
<text x="399" y="1078">-</text><text x="454" y="1078">-</text><text x="618" y="1078">-</text><text x="672" y="1078">-</text><text x="945" y="1080">-</text><text x="1055" y="1080">-</text>
</g>

<g fill="#c00000">
<rect x="154" y="1141" width="48" height="112"/><rect x="209" y="1141" width="48" height="112"/><rect x="263" y="1141" width="48" height="108"/><rect x="318" y="1141" width="48" height="100"/>
<rect x="373" y="1141" width="48" height="102"/><rect x="428" y="1141" width="48" height="103"/><rect x="482" y="1141" width="48" height="103"/><rect x="537" y="1141" width="48" height="104"/>
<rect x="592" y="1141" width="48" height="113"/><rect x="646" y="1141" width="48" height="111"/><rect x="701" y="1141" width="48" height="107"/><rect x="756" y="1141" width="48" height="104"/>
<rect x="810" y="1141" width="48" height="105"/><rect x="865" y="1141" width="48" height="104"/><rect x="919" y="1141" width="48" height="110"/>
</g>
<g class="bl">
<text transform="translate(180,1218) rotate(-30)">(3,145)</text><text transform="translate(235,1218) rotate(-30)">(3,143)</text><text transform="translate(289,1214) rotate(-30)">(3,033)</text><text transform="translate(344,1206) rotate(-30)">(2,808)</text>
<text transform="translate(399,1207) rotate(-30)">(2,854)</text><text transform="translate(454,1208) rotate(-30)">(2,883)</text><text transform="translate(508,1208) rotate(-30)">(2,905)</text><text transform="translate(563,1208) rotate(-30)">(2,910)</text>
<text transform="translate(618,1218) rotate(-30)">(3,156)</text><text transform="translate(672,1216) rotate(-30)">(3,115)</text><text transform="translate(727,1212) rotate(-30)">(2,993)</text><text transform="translate(782,1209) rotate(-30)">(2,930)</text>
<text transform="translate(836,1210) rotate(-30)">(2,949)</text><text transform="translate(891,1208) rotate(-30)">(2,908)</text><text transform="translate(945,1214) rotate(-30)">(3,078)</text>
<text x="1000" y="1158">-</text><text x="1055" y="1158">-</text>
</g>

<g fill="#548235">
<rect x="154" y="1305" width="48" height="83"/><rect x="209" y="1304" width="48" height="84"/><rect x="263" y="1303" width="48" height="85"/><rect x="318" y="1301" width="48" height="87"/>
<rect x="373" y="1303" width="48" height="85"/><rect x="428" y="1305" width="48" height="83"/><rect x="482" y="1302" width="48" height="86"/><rect x="537" y="1302" width="48" height="86"/>
<rect x="592" y="1301" width="48" height="87"/><rect x="646" y="1300" width="48" height="88"/><rect x="701" y="1303" width="48" height="85"/><rect x="756" y="1305" width="48" height="83"/>
<rect x="810" y="1302" width="48" height="86"/><rect x="865" y="1301" width="48" height="87"/><rect x="919" y="1298" width="48" height="90"/>
</g>
<g class="bl">
<text transform="translate(180,1333) rotate(-30)">6,335</text><text transform="translate(235,1333) rotate(-30)">6,355</text><text transform="translate(289,1331) rotate(-30)">6,470</text><text transform="translate(344,1329) rotate(-30)">6,639</text>
<text transform="translate(399,1331) rotate(-30)">6,445</text><text transform="translate(454,1333) rotate(-30)">6,330</text><text transform="translate(508,1330) rotate(-30)">6,525</text><text transform="translate(563,1330) rotate(-30)">6,535</text>
<text transform="translate(618,1329) rotate(-30)">6,581</text><text transform="translate(672,1328) rotate(-30)">6,704</text><text transform="translate(727,1331) rotate(-30)">6,482</text><text transform="translate(782,1333) rotate(-30)">6,320</text>
<text transform="translate(836,1330) rotate(-30)">6,504</text><text transform="translate(891,1329) rotate(-30)">6,586</text><text transform="translate(945,1326) rotate(-30)">6,841</text>
<text x="180" y="1380">-</text><text x="235" y="1380">-</text><text x="289" y="1380">-</text><text x="344" y="1380">-</text><text x="399" y="1380">-</text><text x="454" y="1380">-</text><text x="508" y="1380">-</text><text x="563" y="1380">-</text><text x="618" y="1380">-</text><text x="672" y="1380">-</text><text x="727" y="1380">-</text><text x="782" y="1380">-</text><text x="836" y="1380">-</text><text x="891" y="1380">-</text><text x="945" y="1380">-</text><text x="1000" y="1380">-</text><text x="1055" y="1380">-</text>
</g>

<!-- OWNERSHIP -->
<rect x="55" y="1402" width="1003" height="27" rx="13" fill="#222842"/>
<text x="556" y="1421" class="m" style="font-size:17px;font-weight:bold;fill:#fff" textLength="224" lengthAdjust="spacingAndGlyphs">PERSENTASE KEPEMILIKAN SAHAM</text>
<rect x="8" y="1437" width="74" height="19" rx="2" fill="#548235"/><text x="45" y="1451" class="m" style="font-size:13px;font-weight:bold;fill:#fff">LOKAL</text>
<rect x="8" y="1459" width="74" height="19" rx="2" fill="#8b0000"/><text x="45" y="1473" class="m" style="font-size:13px;font-weight:bold;fill:#fff">ASING</text>
<rect x="86" y="1436" width="1012" height="126" fill="#111827"/>
<line x1="86" y1="1436" x2="1098" y2="1436" stroke="#ddd" stroke-width="2"/><line x1="86" y1="1562" x2="1098" y2="1562" stroke="#ddd" stroke-width="2"/><line x1="86" y1="1436" x2="86" y2="1562" stroke="#ddd" stroke-width="1"/>
<polyline points="120,1528 555,1528 617,1502 866,1502 928,1529 990,1529 1052,1533" fill="none" stroke="#ed7d31" stroke-width="5"/>
<polyline points="120,1525 555,1525 617,1499 866,1499 928,1526 990,1526 1052,1531" fill="none" stroke="#fff" stroke-width="3"/>
<polyline points="120,1531 866,1531" fill="none" stroke="#fff" stroke-width="2"/>
<polyline points="866,1531 928,1474 990,1474" fill="none" stroke="#5b9bd5" stroke-width="2.5"/>
<line x1="990" y1="1474" x2="1052" y2="1531" stroke="#fff" stroke-width="2"/>
<line x1="866" y1="1499" x2="928" y2="1526" stroke="#fff" stroke-width="1.5"/>
<g>
<use href="#LG" transform="translate(122,1522) rotate(-70)"/><use href="#LG" transform="translate(184,1522) rotate(-70)"/><use href="#LG" transform="translate(246,1522) rotate(-70)"/><use href="#LG" transform="translate(308,1522) rotate(-70)"/>
<use href="#LG" transform="translate(370,1522) rotate(-70)"/><use href="#LG" transform="translate(433,1522) rotate(-70)"/><use href="#LG" transform="translate(495,1522) rotate(-70)"/><use href="#LG" transform="translate(557,1522) rotate(-70)"/>
<use href="#LG" transform="translate(617,1500) rotate(-70)"/><use href="#LG" transform="translate(679,1500) rotate(-70)"/><use href="#LG" transform="translate(741,1500) rotate(-70)"/><use href="#LG" transform="translate(804,1500) rotate(-70)"/><use href="#LG" transform="translate(866,1500) rotate(-70)"/>
<use href="#LG" transform="translate(928,1526) rotate(-70)"/><use href="#LG" transform="translate(990,1526) rotate(-70)"/><use href="#LG" transform="translate(1054,1530) rotate(-70)"/>
</g>
<g style="font-size:12px;font-weight:bold">
<text transform="translate(617,1504) rotate(-70)" class="m" style="fill:#fff">99.7%</text><text transform="translate(679,1504) rotate(-70)" class="m" style="fill:#fff">99.7%</text><text transform="translate(741,1504) rotate(-70)" class="m" style="fill:#fff">99.5%</text><text transform="translate(804,1504) rotate(-70)" class="m" style="fill:#fff">99.3%</text><text transform="translate(866,1504) rotate(-70)" class="m" style="fill:#fff">99.2%</text>
<text transform="translate(930,1530) rotate(-70)" class="m" style="fill:#fff">8.3%</text><text transform="translate(992,1530) rotate(-70)" class="m" style="fill:#fff">8.1%</text>
</g>
<g fill="#8b0000">
<rect x="104" y="1520" width="31" height="22"/><rect x="166" y="1520" width="31" height="22"/><rect x="228" y="1520" width="31" height="22"/><rect x="290" y="1520" width="31" height="22"/><rect x="352" y="1520" width="31" height="22"/><rect x="415" y="1520" width="31" height="22"/><rect x="477" y="1520" width="31" height="22"/><rect x="539" y="1520" width="31" height="22"/>
<rect x="601" y="1520" width="31" height="22"/><rect x="663" y="1520" width="31" height="22"/><rect x="725" y="1520" width="31" height="22"/><rect x="788" y="1520" width="31" height="22"/><rect x="850" y="1520" width="31" height="22"/>
<rect x="906" y="1464" width="44" height="22"/><rect x="968" y="1464" width="44" height="22"/><rect x="1036" y="1520" width="31" height="22"/>
</g>
<g style="font-size:12px;font-weight:bold">
<text x="120" y="1536" class="m" style="fill:#fff">0.3%</text><text x="182" y="1536" class="m" style="fill:#fff">0.4%</text><text x="244" y="1536" class="m" style="fill:#fff">0.5%</text><text x="306" y="1536" class="m" style="fill:#fff">0.4%</text><text x="368" y="1536" class="m" style="fill:#fff">0.5%</text><text x="431" y="1536" class="m" style="fill:#fff">0.6%</text><text x="493" y="1536" class="m" style="fill:#fff">0.4%</text><text x="555" y="1536" class="m" style="fill:#fff">0.3%</text>
<text x="617" y="1536" class="m" style="fill:#fff">0.3%</text><text x="679" y="1536" class="m" style="fill:#fff">0.3%</text><text x="741" y="1536" class="m" style="fill:#fff">0.5%</text><text x="804" y="1536" class="m" style="fill:#fff">0.7%</text><text x="866" y="1536" class="m" style="fill:#fff">0.8%</text>
<text x="928" y="1480" class="m" style="fill:#fff">91.7%</text><text x="990" y="1480" class="m" style="fill:#fff">91.9%</text><text x="1052" y="1536" class="m" style="fill:#fff">0.0%</text>
</g>
<g style="font-size:13px">
<text x="120" y="1556" class="m" style="fill:#ffff00">Q1 '22</text><text x="182" y="1556" class="m" style="fill:#ffff00">Q2 '22</text><text x="244" y="1556" class="m" style="fill:#ffff00">Q3 '22</text><text x="306" y="1556" class="m" style="fill:#ffff00">Q4 '22</text>
<text x="368" y="1556" class="m" style="fill:#ffff00">Q1 '23</text><text x="431" y="1556" class="m" style="fill:#ffff00">Q2 '23</text><text x="493" y="1556" class="m" style="fill:#ffff00">Q3 '23</text><text x="555" y="1556" class="m" style="fill:#ffff00">Q4 '23</text>
<text x="617" y="1556" class="m" style="fill:#ffff00">Q1 '24</text><text x="679" y="1556" class="m" style="fill:#ffff00">Q2 '24</text><text x="741" y="1556" class="m" style="fill:#ffff00">Q3 '24</text><text x="804" y="1556" class="m" style="fill:#ffff00">Q4 '24</text>
<text x="866" y="1556" class="m" style="fill:#ffff00">Q1 '25</text><text x="928" y="1556" class="m" style="fill:#ffff00">Q2 '25</text><text x="990" y="1556" class="m" style="fill:#ffff00">Q3 '25</text><text x="1052" y="1556" class="m" style="fill:#ffff00">Q4 '25</text>
</g>
</svg>
</body></html>
